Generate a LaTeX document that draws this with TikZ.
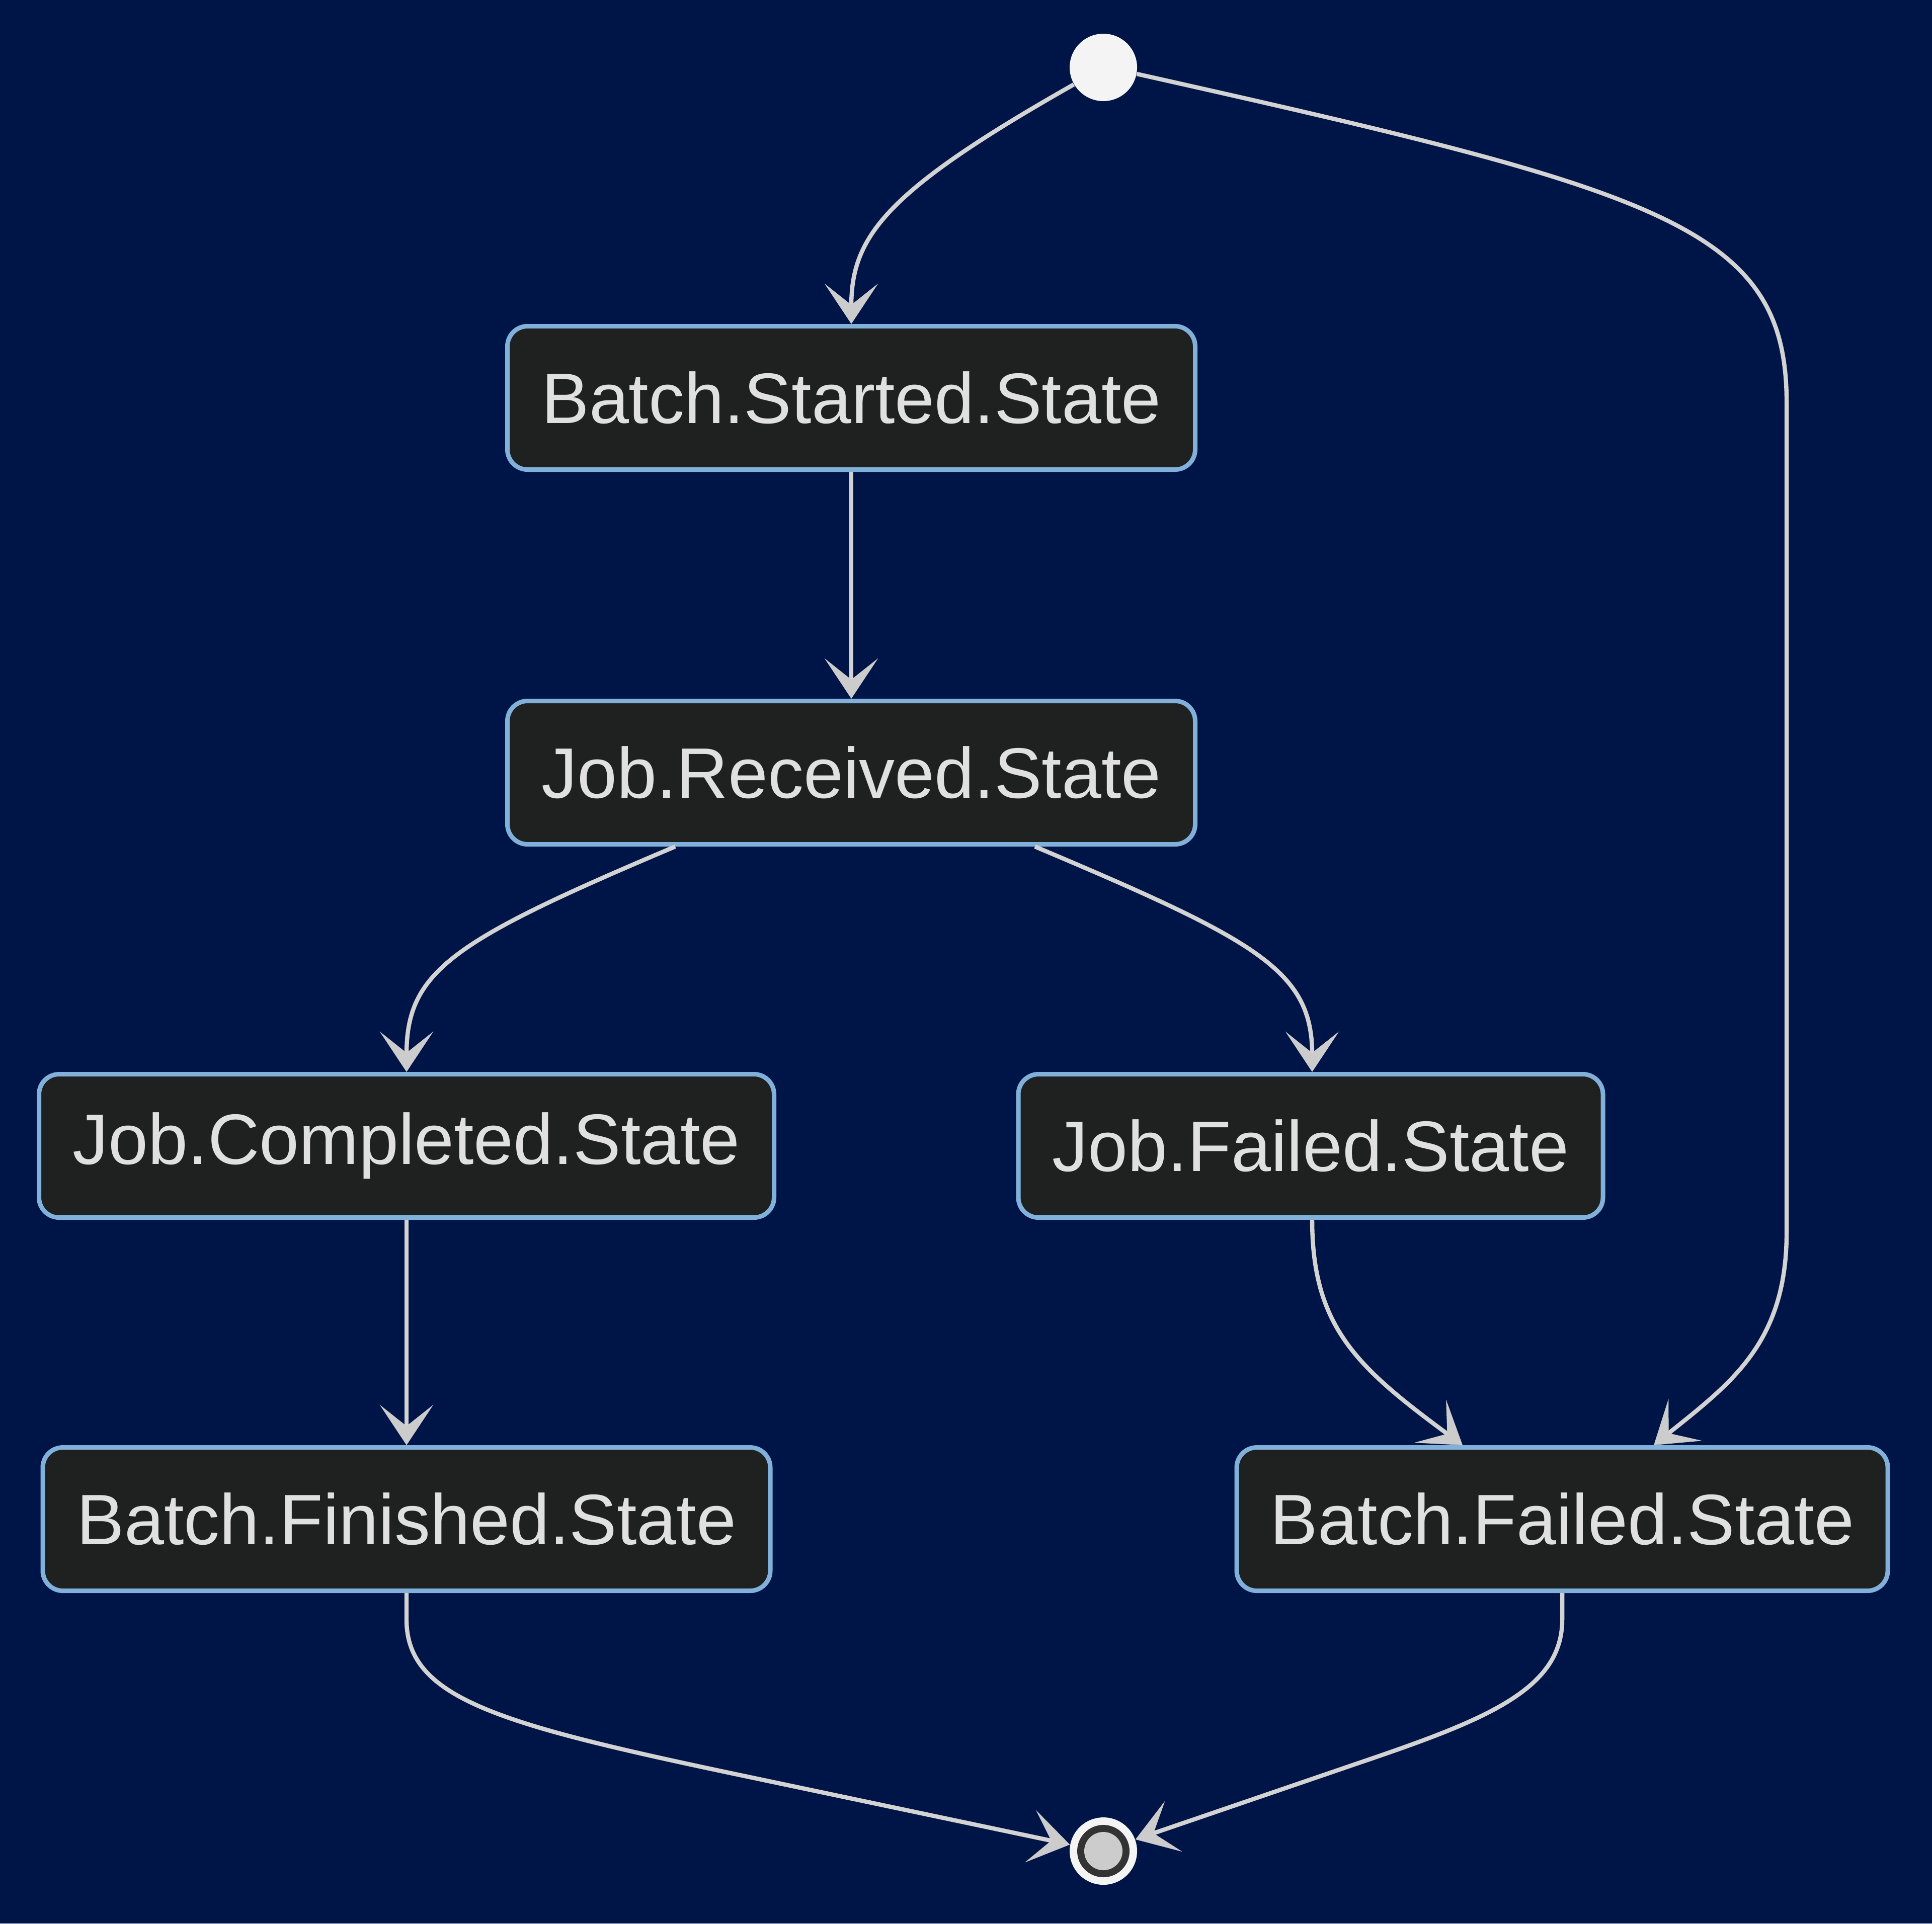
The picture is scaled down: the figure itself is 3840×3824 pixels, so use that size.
\documentclass[tikz,border=0pt]{standalone}
\usepackage{fontspec}
\setmainfont{Liberation Sans}
\usetikzlibrary{arrows.meta,calc}
\definecolor{bgcol}{RGB}{0,21,71}
\definecolor{boxfill}{HTML}{1F2020}
\definecolor{boxline}{HTML}{81B1DB}
\definecolor{txtcol}{HTML}{E0E0E0}
\definecolor{edgecol}{HTML}{D3D3D3}
\definecolor{tipcol}{HTML}{CCCCCC}
\definecolor{startcol}{HTML}{F4F4F4}
\definecolor{ringcol}{HTML}{333333}
\definecolor{innercol}{HTML}{CCCCCC}
\begin{document}
\begin{tikzpicture}[x=0.25pt,y=-0.25pt,
  statebox/.style={draw=boxline, line width=2.25pt, fill=boxfill, rounded corners=10pt,
    text=txtcol, font=\fontsize{35.5}{42}\selectfont, minimum height=71.25pt, inner sep=0pt},
  edge/.style={draw=edgecol, line width=2.1pt,
    -{Stealth[length=20pt, width=26.5pt, inset=10.5pt, color=tipcol]}}]
\fill[bgcol] (0,0) rectangle (3840,3824);
\useasboundingbox (0,0) rectangle (3840,3824);
% nodes
\node[circle, fill=startcol, minimum size=33.5pt, inner sep=0pt] (st) at (2193,134) {};
\node[statebox, minimum width=341.75pt] (bs) at (1692,791) {Batch.Started.State};
\node[statebox, minimum width=341.75pt] (jr) at (1692,1536) {Job.Received.State};
\node[statebox, minimum width=365.25pt] (jc) at (808,2278) {Job.Completed.State};
\node[statebox, minimum width=290.5pt] (jf) at (2605,2278) {Job.Failed.State};
\node[statebox, minimum width=361.5pt] (bfin) at (808,3020) {Batch.Finished.State};
\node[statebox, minimum width=323.5pt] (bfail) at (3105,3020) {Batch.Failed.State};
\node[circle, fill=startcol, minimum size=33.5pt, inner sep=0pt] (en) at (2193,3680) {};
\fill[ringcol] (en.center) circle[radius=13pt];
\fill[innercol] (en.center) circle[radius=9.5pt];
% edges
\draw[edge] (st.210) .. controls (1760,380) and (1692,470) .. (bs.north);
\draw[edge] (st.-11) .. controls (3300,380) and (3551,450) .. (3551,800)
  -- (3551,2450) .. controls (3551,2670) and (3440,2750) .. ($(bfail.north)+(182,0)$);
\draw[edge] (bs.south) -- (jr.north);
\draw[edge] ($(jr.south)+(-350,0)$) .. controls (900,1870) and (808,1930) .. (jc.north);
\draw[edge] ($(jr.south)+(365,0)$) .. controls (2500,1870) and (2608,1930) .. ($(jf.north)+(3,0)$);
\draw[edge] (jc.south) -- (bfin.north);
\draw[edge] ($(jf.south)+(3,0)$) .. controls (2608,2640) and (2700,2720) .. ($(bfail.north)+(-198,0)$);
\draw[edge] (bfin.south) -- (808,3220) .. controls (808,3380) and (1000,3430) .. (1500,3535) -- (en.169);
\draw[edge] (bfail.south) -- (3105,3220) .. controls (3105,3360) and (2950,3420) .. (2700,3505) -- (en.20);
\end{tikzpicture}
\end{document}
